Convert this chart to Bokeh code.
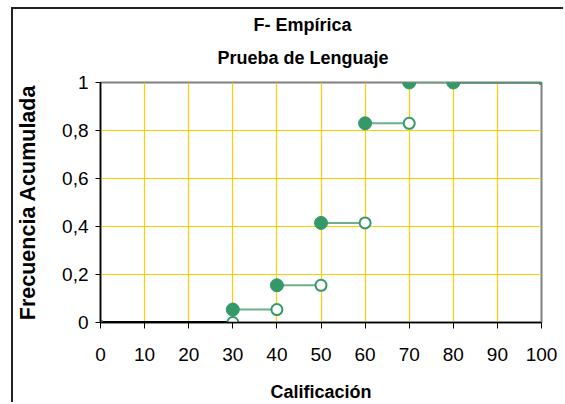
from bokeh.plotting import figure
from bokeh.models import FixedTicker, Title, Range1d
from bokeh.embed import file_html
from bokeh.resources import INLINE

# Data: empirical cumulative distribution (step function)
grades = [0, 30, 40, 50, 60, 70, 80, 100]
cum_freq = [0.0, 0.054, 0.155, 0.415, 0.83, 1.0, 1.0, 1.0]

x_ticks = [0, 10, 20, 30, 40, 50, 60, 70, 80, 90, 100]
y_ticks = [0, 0.2, 0.4, 0.6, 0.8, 1]
y_tick_labels = ["0", "0,2", "0,4", "0,6", "0,8", "1"]

title_1 = "F- Empírica"
title_2 = "Prueba de Lenguaje"
x_title = "Calificación"
y_title = "Frecuencia Acumulada"

GREEN = "#339966"
LIGHT_GREEN = "#6fb08a"
GRID = "#ffcc00"
FONT = "Liberation Sans"

p = figure(width=552, height=395, output_backend="svg", toolbar_location=None,
           x_range=Range1d(0, 100), y_range=Range1d(0, 1),
           min_border_left=84, min_border_right=24, min_border_top=73, min_border_bottom=82)
p.margin = (9, 0, 0, 13)
p.styles = {"box-shadow": "-2px -2px 0 0 #222222"}
p.background_fill_color = "white"
p.border_fill_color = "white"
p.outline_line_color = "#808080"
p.outline_line_width = 2

# Grid
p.xgrid.ticker = FixedTicker(ticks=x_ticks)
p.ygrid.ticker = FixedTicker(ticks=y_ticks)
for g in (p.xgrid, p.ygrid):
    g.grid_line_color = GRID
    g.grid_line_width = 1.2

# Axes
p.xaxis.ticker = FixedTicker(ticks=x_ticks)
p.yaxis.ticker = FixedTicker(ticks=y_ticks)
p.yaxis.major_label_overrides = {t: lab for t, lab in zip(y_ticks, y_tick_labels)}
for ax in (p.xaxis, p.yaxis):
    ax.axis_line_color = "black"
    ax.axis_line_width = 1.5
    ax.major_tick_line_color = "black"
    ax.minor_tick_line_color = None
    ax.major_tick_in = 0
    ax.major_label_text_font = FONT
    ax.major_label_text_font_size = "19px"
    ax.major_label_text_color = "black"
    ax.axis_label_text_font = FONT
    ax.axis_label_text_font_style = "bold"
    ax.axis_label_text_color = "black"
p.xaxis.major_tick_out = 6
p.yaxis.major_tick_out = 5
p.xaxis.major_label_standoff = 19
p.yaxis.major_label_standoff = 7
p.xaxis.axis_label = x_title
p.yaxis.axis_label = y_title
p.xaxis.axis_label_text_font_size = "18px"
p.yaxis.axis_label_text_font_size = "21.5px"
p.xaxis.axis_label_standoff = 18
p.yaxis.axis_label_standoff = 19

# Step segments
seg_x0 = grades[:-1]
seg_x1 = grades[1:]
seg_y = cum_freq[:-1]
# first segment (0..30 at 0) in black
p.segment(x0=[seg_x0[0]], y0=[seg_y[0]], x1=[seg_x1[0]], y1=[seg_y[0]],
          line_color="black", line_width=3)
# inner segments (light green)
p.segment(x0=seg_x0[1:-1], y0=seg_y[1:-1], x1=seg_x1[1:-1], y1=seg_y[1:-1],
          line_color=LIGHT_GREEN, line_width=2)
# last segment 80..100
p.segment(x0=[seg_x0[-1]], y0=[seg_y[-1]], x1=[seg_x1[-1]], y1=[seg_y[-1]],
          line_color="#4a8f6c", line_width=2.5)

# Open circles (right limits)
p.scatter(x=grades[1:6], y=cum_freq[0:5], marker="circle", size=11,
          fill_color="white", line_color=GREEN, line_width=2)
# Filled circles
p.scatter(x=grades[1:7], y=cum_freq[1:7], marker="circle", size=13,
          fill_color=GREEN, line_color=GREEN)
# End points
p.scatter(x=[grades[0], grades[-1]], y=[cum_freq[0], cum_freq[-1]], marker="square",
          size=4, fill_color=GREEN, line_color=GREEN)

# Titles (p.title is the outer one)
p.title.text = title_1
p.title.align = "left"
p.title.offset = 153
p.title.vertical_align = "bottom"
p.title.text_font = FONT
p.title.text_font_style = "bold"
p.title.text_font_size = "18px"
p.title.text_color = "black"
p.title.standoff = 0
p.add_layout(Title(text=title_2, align="left", offset=117, vertical_align="top",
                   text_font=FONT, text_font_style="bold", text_font_size="18px",
                   text_color="black", standoff=26), "above")

open("out.html", "w").write(file_html(p, INLINE))
